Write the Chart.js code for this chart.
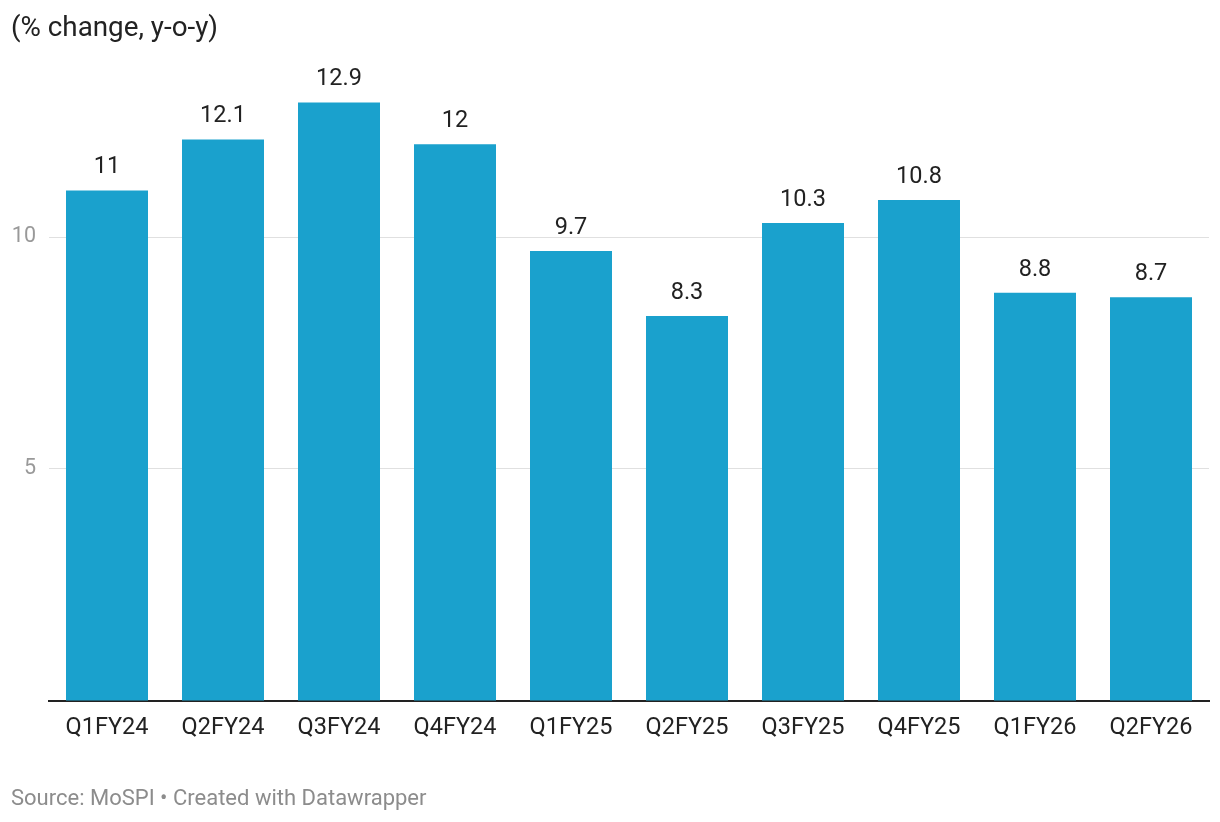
<!DOCTYPE html>
<html>
<head>
<meta charset="utf-8">
<script src="https://cdn.jsdelivr.net/npm/chart.js@4"></script>
<style>
  html, body { margin:0; padding:0; background:#fff; }
  body { width:1220px; height:822px; position:relative; overflow:hidden; font-family: Roboto, "Noto Sans", sans-serif; }
  #title { position:absolute; left:11px; top:10px; font-size:27.8px; color:#222; line-height:34px; white-space:nowrap; }
  #footer { position:absolute; left:11px; top:786px; font-size:22px; color:#8c8c8c; line-height:24px; white-space:nowrap; }
  #wrap { position:absolute; left:0; top:0; width:1220px; height:822px; }
</style>
</head>
<body>
<div id="wrap"><canvas id="c" width="1220" height="822"></canvas></div>
<div id="title">(% change, y-o-y)</div>
<div id="footer">Source: MoSPI • Created with Datawrapper</div>
<script>
const categories = ["Q1FY24","Q2FY24","Q3FY24","Q4FY24","Q1FY25","Q2FY25","Q3FY25","Q4FY25","Q1FY26","Q2FY26"];
const values = [11, 12.1, 12.9, 12, 9.7, 8.3, 10.3, 10.8, 8.8, 8.7];
const yTicks = [0, 5, 10];

const valueLabels = {
  id: 'valueLabels',
  afterDatasetsDraw(chart) {
    const ctx = chart.ctx;
    const meta = chart.getDatasetMeta(0);
    ctx.save();
    ctx.font = '23.5px Roboto';
    ctx.fillStyle = '#222';
    ctx.textAlign = 'center';
    ctx.textBaseline = 'middle';
    meta.data.forEach((bar, i) => {
      ctx.fillText(String(values[i]), bar.x, bar.y - 23);
    });
    ctx.restore();
  }
};

new Chart(document.getElementById('c'), {
  type: 'bar',
  data: {
    labels: categories,
    datasets: [{
      data: values,
      backgroundColor: '#1aa1cd',
      barPercentage: 82/116,
      categoryPercentage: 1
    }]
  },
  options: {
    responsive: false,
    animation: false,
    layout: { padding: { top: 51.4, right: 11, left: 0, bottom: 0 } },
    plugins: { legend: { display: false }, tooltip: { enabled: false }, title: { display: false } },
    scales: {
      x: {
        grid: { display: false, drawTicks: false },
        border: { display: true, color: '#222', width: 2 },
        ticks: { color: '#222', font: { family: 'Roboto', size: 23.5 }, padding: 13, maxRotation: 0, autoSkip: false },
        afterFit(scale) { scale.height = 121; }
      },
      y: {
        min: 0, max: 14,
        afterBuildTicks(scale) { scale.ticks = yTicks.map(v => ({ value: v })); },
        grid: {
          drawTicks: false,
          color: ctx => (ctx.tick && ctx.tick.value === 0) ? 'rgba(0,0,0,0)' : '#e0e0e0',
          lineWidth: 1
        },
        border: { display: false },
        ticks: {
          color: '#999',
          font: { family: 'Roboto', size: 21.5 },
          padding: 13,
          callback: v => v === 0 ? '' : String(v)
        },
        afterFit(scale) { scale.width = 49; }
      }
    }
  },
  plugins: [valueLabels]
});
</script>
</body>
</html>
